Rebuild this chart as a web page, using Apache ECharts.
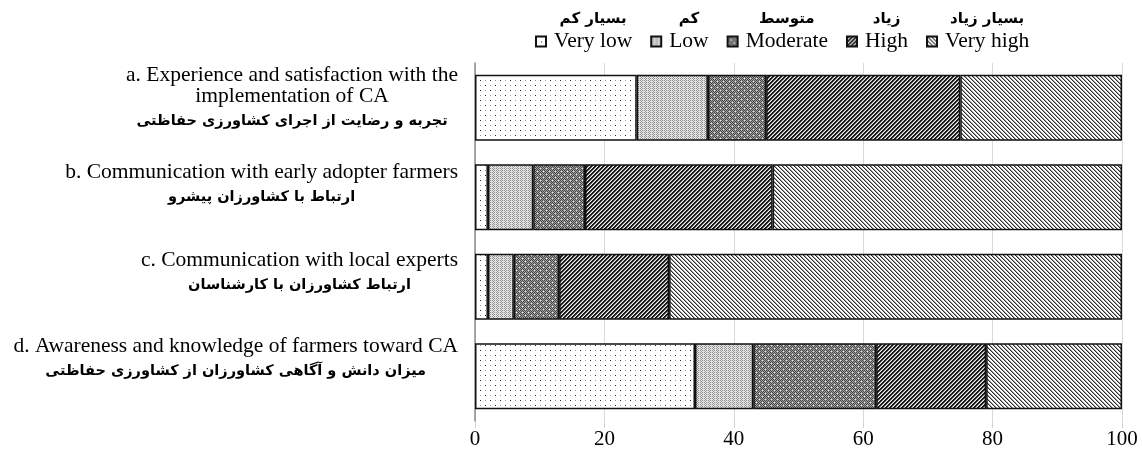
<!DOCTYPE html>
<html>
<head>
<meta charset="utf-8">
<script src="https://cdn.jsdelivr.net/npm/echarts@6/dist/echarts.min.js"></script>
<style>
  html, body { margin: 0; padding: 0; background: #fff; }
  #container { width: 1142px; height: 459px; }
</style>
</head>
<body>
<div id="container"></div>
<script>
var categories = [
  'a. Experience and satisfaction with the\nimplementation of CA',
  'b. Communication with early adopter farmers',
  'c. Communication with local experts',
  'd. Awareness and knowledge of farmers toward CA'
];
var categoriesFa = [
  'تجربه و رضایت از اجرای کشاورزی حفاظتی',
  'ارتباط با کشاورزان پیشرو',
  'ارتباط کشاورزان با کارشناسان',
  'میزان دانش و آگاهی کشاورزان از کشاورزی حفاظتی'
];
var levels = ['Very low', 'Low', 'Moderate', 'High', 'Very high'];
var levelsFa = ['بسیار کم', 'کم', 'متوسط', 'زیاد', 'بسیار زیاد'];
var veryLow = [25, 2, 2, 34];
var low = [11, 7, 4, 9];
var moderate = [9, 8, 7, 19];
var high = [30, 29, 17, 17];
var veryHigh = [25, 54, 70, 21];
var xTicks = [0, 20, 40, 60, 80, 100];

// small pixel tiles used as hatch fills
function tile(w, h, fn) {
  var c = document.createElement('canvas');
  c.width = w; c.height = h;
  var ctx = c.getContext('2d');
  for (var x = 0; x < w; x++) {
    for (var y = 0; y < h; y++) {
      ctx.fillStyle = fn(x, y);
      ctx.fillRect(x, y, 1, 1);
    }
  }
  return { image: c, repeat: 'repeat' };
}
var fills = [
  tile(10, 10, function (x, y) {
    if ((x === 0 && y === 0) || (x === 5 && y === 5)) return '#222';
    if ((x === 5 && y === 0) || (x === 0 && y === 5)) return '#999';
    return '#fff';
  }),
  tile(4, 4, function (x, y) {
    if (x === 3) return '#dcdcdc';
    return (x + y) % 2 === 0 ? '#8e8e8e' : '#ececec';
  }),
  tile(6, 6, function (x, y) {
    if ((x === 0 && y === 0) || (x === 3 && y === 3)) return '#f0f0f0';
    return (x + y) % 2 === 0 ? '#454545' : '#a4a4a4';
  }),
  tile(4, 4, function (x, y) {
    var k = (x + y) % 4;
    return k < 2 ? '#1a1a1a' : (k === 2 ? '#8c8c8c' : '#f4f4f4');
  }),
  tile(4, 4, function (x, y) {
    var k = (x - y + 8) % 4;
    return k === 0 ? '#2a2a2a' : (k === 1 ? '#a0a0a0' : '#ffffff');
  })
];

var values = [veryLow, low, moderate, high, veryHigh];
var series = levels.map(function (name, i) {
  return {
    name: name,
    type: 'bar',
    stack: 'total',
    barCategoryGap: '26%',
    data: values[i],
    itemStyle: { color: fills[i], borderColor: '#111', borderWidth: 1.5 }
  };
});

// bottom spacer per row, nudges each label block up
var spacer = [16, 22, 24, 32];

var dom = document.getElementById('container');
var myChart = echarts.init(dom, null, { renderer: 'canvas' });
var option = {
  backgroundColor: '#fff',
  animation: false,
  legend: {
    left: 530,
    top: 7,
    icon: 'rect',
    itemWidth: 10,
    itemHeight: 10,
    itemGap: 18,
    selectedMode: false,
    data: levels,
    formatter: function (name) {
      return '{fa|' + levelsFa[levels.indexOf(name)] + '}\n{en|' + name + '}\n{sp| }';
    },
    textStyle: {
      rich: {
        fa: { fontFamily: 'DejaVu Sans', fontWeight: 'bold', fontSize: 15, lineHeight: 22, color: '#000', align: 'center', padding: [0, 0, 0, 3] },
        en: { fontFamily: 'Liberation Serif', fontSize: 21.5, lineHeight: 22, color: '#000', align: 'center', padding: [0, 0, 0, 3] },
        sp: { fontSize: 4, lineHeight: 22 }
      }
    }
  },
  grid: { left: 475, right: 20, top: 63, bottom: 38 },
  xAxis: {
    type: 'value',
    min: 0,
    max: 100,
    interval: 20,
    axisLine: { show: false },
    axisTick: { show: true, length: 7, lineStyle: { color: '#d0d0d0' } },
    splitLine: { lineStyle: { color: '#d9d9d9', width: 1 } },
    axisLabel: {
      margin: 8,
      fontFamily: 'Liberation Serif',
      fontSize: 21,
      color: '#000',
      formatter: function (v) { return xTicks.indexOf(v) >= 0 ? String(v) : ''; }
    }
  },
  yAxis: {
    type: 'category',
    inverse: true,
    data: categories,
    axisLine: { show: true, lineStyle: { color: '#8c8c8c', width: 1.5 } },
    axisTick: { show: false },
    axisLabel: {
      margin: 17,
      formatter: function (v, i) {
        var lines = v.split('\n').map(function (s) { return '{en|' + s + '}'; });
        return lines.join('\n') + '\n{fa|' + categoriesFa[i] + '}\n{sp' + i + '| }';
      },
      rich: {
        en: { fontFamily: 'Liberation Serif', fontSize: 21.5, lineHeight: 21, color: '#000', align: 'center' },
        fa: { fontFamily: 'DejaVu Sans', fontWeight: 'bold', fontSize: 14.5, lineHeight: 28, color: '#000', align: 'center' },
        sp0: { fontSize: 4, lineHeight: spacer[0] },
        sp1: { fontSize: 4, lineHeight: spacer[1] },
        sp2: { fontSize: 4, lineHeight: spacer[2] },
        sp3: { fontSize: 4, lineHeight: spacer[3] }
      }
    }
  },
  series: series
};

if (option && typeof option === 'object') {
  myChart.setOption(option);
}
window.addEventListener('resize', myChart.resize);
</script>
</body>
</html>
